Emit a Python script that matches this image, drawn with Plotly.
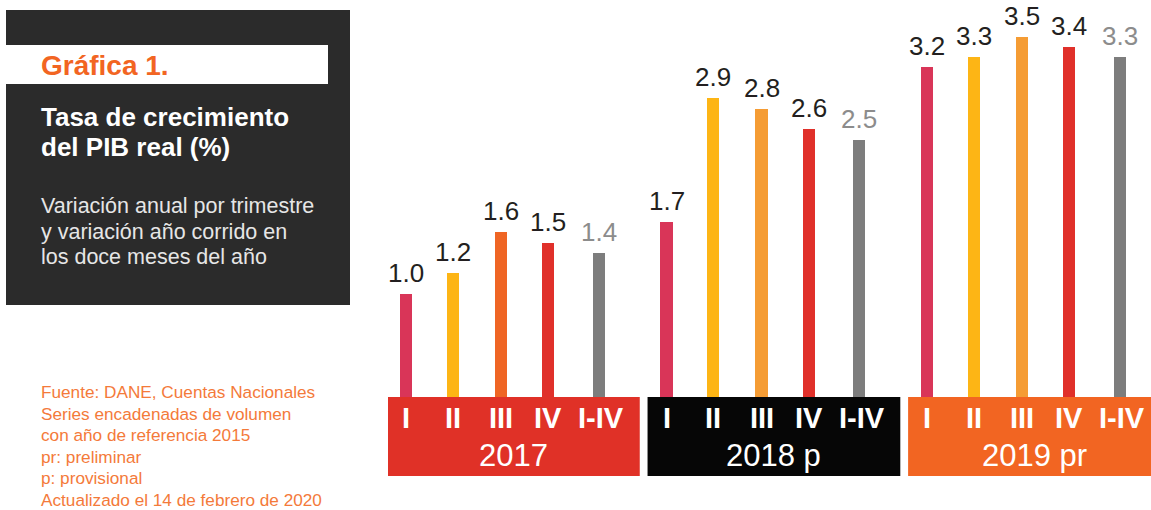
import plotly.graph_objects as go

# data
years = ["2017", "2018 p", "2019 pr"]
quarters = ["I", "II", "III", "IV", "I-IV"]
growth_2017 = [1.0, 1.2, 1.6, 1.5, 1.4]
growth_2018 = [1.7, 2.9, 2.8, 2.6, 2.5]
growth_2019 = [3.2, 3.3, 3.5, 3.4, 3.3]
series = [growth_2017, growth_2018, growth_2019]

title_tag = "Gráfica 1."
title_lines = ["Tasa de crecimiento", "del PIB real (%)"]
subtitle_lines = ["Variación anual por trimestre", "y variación año corrido en", "los doce meses del año"]
source_lines = [
    "Fuente: DANE, Cuentas Nacionales",
    "Series encadenadas de volumen",
    "con año de referencia 2015",
    "pr: preliminar",
    "p: provisional",
    "Actualizado el 14 de febrero de 2020",
]

# styling
W, H = 1151, 510
FONT = "Liberation Sans"
bar_colors = [
    ["#D93558", "#FDB515", "#EF6524", "#E0302A", "#7D7D7D"],
    ["#D93558", "#FDB515", "#F59C34", "#E0302A", "#7D7D7D"],
    ["#D93558", "#FDB515", "#F59C34", "#E0302A", "#7D7D7D"],
]
box_colors = ["#E03127", "#060606", "#F26522"]
slot_offsets = [0, 0.96, 1.95, 2.92, 3.96]
group_step = 5.35
px_per_slot = 48.7
left_px, first_bar_px = 388, 406
x_lo = (left_px - first_bar_px) / px_per_slot
x_hi = (W - first_bar_px) / px_per_slot
base_px = 397
px_per_unit = 103.0


def py(pixel_y: float) -> float:
    return (H - pixel_y) / H


def px(pixel_x: float) -> float:
    return pixel_x / W


fig = go.Figure()
annotations = []
shapes = []

for g, (year, vals, colors) in enumerate(zip(years, series, bar_colors)):
    xs = [g * group_step + off for off in slot_offsets]
    fig.add_trace(
        go.Bar(
            x=xs,
            y=vals,
            width=0.25,
            marker={"color": colors, "line": {"width": 0}},
            showlegend=False,
            hoverinfo="skip",
        )
    )
    for j, (xv, v) in enumerate(zip(xs, vals)):
        annotations.append(
            dict(
                x=xv, y=v, xref="x", yref="y", text=f"{v:.1f}", showarrow=False,
                yanchor="bottom", yshift=4,
                font={"family": FONT, "size": 26, "color": "#8C8C8C" if j == 4 else "#231F20"},
            )
        )
        annotations.append(
            dict(
                x=xv + (0.05 if j == 4 else 0), y=py(417.5), xref="x", yref="paper",
                text=f"<b>{quarters[j]}</b>", showarrow=False, yanchor="middle",
                font={"family": FONT, "size": 29, "color": "white"},
            )
        )
    x0 = g * group_step - 0.39
    x1 = g * group_step + 4.8
    shapes.append(
        dict(type="rect", xref="x", yref="paper", x0=x0, x1=x1, y0=py(476), y1=py(base_px),
             fillcolor=box_colors[g], line={"width": 0}, layer="below")
    )
    annotations.append(
        dict(
            x=(x0 + min(x1, x_hi + 0.2)) / 2, y=py(455.5), xref="x", yref="paper", text=year,
            showarrow=False, yanchor="middle",
            font={"family": FONT, "size": 31, "color": "white"},
        )
    )

# left info panel
shapes.append(dict(type="rect", xref="paper", yref="paper", x0=px(6), x1=px(350), y0=py(305), y1=py(10),
                   fillcolor="#2B2B2B", line={"width": 0}))
shapes.append(dict(type="rect", xref="paper", yref="paper", x0=px(6), x1=px(328), y0=py(84), y1=py(45),
                   fillcolor="white", line={"width": 0}))

annotations.append(dict(x=px(39), y=py(65), xref="paper", yref="paper", text=f"<b>{title_tag}</b>",
                        showarrow=False, xanchor="left", yanchor="middle",
                        font={"family": FONT, "size": 28, "color": "#F26522"}))
for i, line in enumerate(title_lines):
    annotations.append(dict(x=px(39), y=py(117 + 30 * i), xref="paper", yref="paper", text=f"<b>{line}</b>",
                            showarrow=False, xanchor="left", yanchor="middle",
                            font={"family": FONT, "size": 26, "color": "white"}))
for i, line in enumerate(subtitle_lines):
    annotations.append(dict(x=px(39), y=py(206 + 25.5 * i), xref="paper", yref="paper", text=line,
                            showarrow=False, xanchor="left", yanchor="middle",
                            font={"family": FONT, "size": 21.5, "color": "#E6E6E6"}))
for i, line in enumerate(source_lines):
    annotations.append(dict(x=px(39), y=py(392 + 21.5 * i), xref="paper", yref="paper", text=line,
                            showarrow=False, xanchor="left", yanchor="middle",
                            font={"family": FONT, "size": 17.2, "color": "#F47A3A"}))

fig.update_layout(
    width=W,
    height=H,
    margin=dict(l=0, r=0, t=0, b=0),
    paper_bgcolor="white",
    plot_bgcolor="rgba(0,0,0,0)",
    xaxis=dict(domain=[px(left_px), 1], range=[x_lo, x_hi], visible=False, fixedrange=True),
    yaxis=dict(domain=[py(base_px), 1], range=[0, base_px / px_per_unit], visible=False, fixedrange=True),
    shapes=shapes,
    annotations=annotations,
    bargap=0,
)

# drop the page's default body margin so the figure fills the window exactly
fig.write_html(
    "out.html",
    config={"displayModeBar": False},
    post_script="document.body.style.margin='0';",
)
